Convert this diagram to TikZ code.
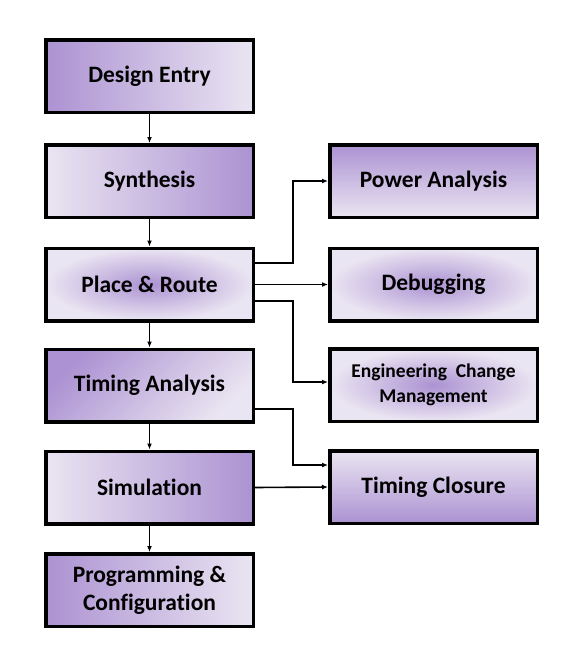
\documentclass[tikz,border=0pt]{standalone}
\usepackage{fontspec}
\setmainfont{Carlito}[Ligatures=NoCommon]
\usetikzlibrary{arrows.meta}
\definecolor{purD}{RGB}{172,146,210}
\definecolor{purL}{RGB}{234,229,242}
\tikzset{
  stage/.style={draw=black, line width=3.5pt, minimum width=207.5pt, minimum height=72.5pt,
    align=center, font=\bfseries\fontsize{23.5}{28}\selectfont, text=black},
  lr/.style={left color=purD, right color=purL},
  rl/.style={left color=purL, right color=purD},
  tb/.style={top color=purD, bottom color=purL},
  bt/.style={top color=purL, bottom color=purD},
  diag/.style={top color=purD, bottom color=purL, shading angle=45},
  glow/.style={inner color=purD, outer color=purL},
  arr/.style={line width=1.6pt, -{Latex[length=6pt,width=5pt]}}
}
\begin{document}
\begin{tikzpicture}[x=1pt,y=-1pt]
  \useasboundingbox (0,0) rectangle (582,665);
  % main flow
  \node[stage,lr] (ent) at (149.5,76) {Design Entry};
  \node[stage,rl] (syn) at (149.5,181) {Synthesis};
  \node[stage,glow] (par) at (149.5,284.5) {Place \& Route};
  \node[stage,diag] (tim) at (149.5,385.5) {Timing Analysis};
  \node[stage,rl] (sim) at (149.5,487.5) {Simulation};
  \node[stage,lr] (prg) at (149.5,590) {Programming \&\\Configuration};
  % side tasks
  \node[stage,tb] (pow) at (433.5,181) {Power Analysis};
  \node[stage,glow] (dbg) at (433.5,284.5) {Debugging};
  \node[stage,glow,font=\bfseries\fontsize{19.5}{25}\selectfont] (ecm) at (433.5,385) {Engineering~~Change\\Management};
  \node[stage,bt] (tcl) at (433.5,487) {Timing Closure};
  % arrows
  \draw[arr] (ent) -- (syn);
  \draw[arr] (syn) -- (par);
  \draw[arr] (par) -- (tim);
  \draw[arr] (tim) -- (sim);
  \draw[arr] (sim) -- (prg);
  \draw[arr] ([yshift=21.5pt]par.east) -- ++(38,0) |- (pow.west);
  \draw[arr] (par.east) -- (dbg.west);
  \draw[arr] ([yshift=-16.5pt]par.east) -- ++(38,0) |- ([yshift=3pt]ecm.west);
  \draw[arr] ([yshift=-23.5pt]tim.east) -- ++(38,0) |- ([yshift=22pt]tcl.west);
  \draw[arr] (sim.east) -- (tcl.west);
\end{tikzpicture}
\end{document}
